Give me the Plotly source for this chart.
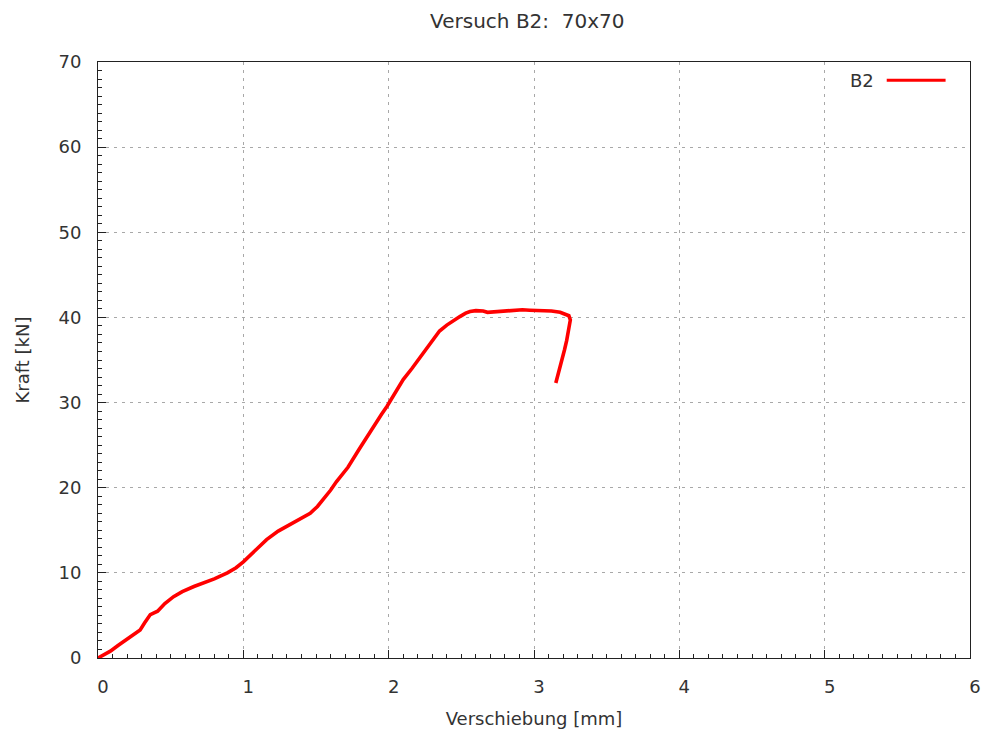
import plotly.graph_objects as go

# Load-displacement curve of specimen B2 (70x70)
displacement_mm = [
    0, 0.04, 0.085, 0.14, 0.2, 0.25, 0.29, 0.32, 0.34, 0.36,
    0.41, 0.46, 0.52, 0.58, 0.66, 0.73, 0.80, 0.89, 0.95, 1.0,
    1.08, 1.16, 1.24, 1.32, 1.40, 1.46, 1.51, 1.55, 1.60, 1.64,
    1.72, 1.80, 1.88, 1.95, 1.99, 2.05, 2.10, 2.16, 2.22, 2.28,
    2.35, 2.40, 2.45, 2.49, 2.53, 2.56, 2.60, 2.65, 2.68, 2.72,
    2.745, 2.80, 2.86, 2.92, 2.97, 3.05, 3.12, 3.18, 3.22, 3.24,
    3.25, 3.24, 3.225, 3.21, 3.19, 3.17, 3.15,
]
force_kN = [
    0, 0.4, 0.8, 1.5, 2.2, 2.8, 3.3, 4.1, 4.7, 5.1,
    5.5, 6.4, 7.2, 7.8, 8.4, 8.8, 9.3, 10.0, 10.6, 11.3,
    12.6, 13.9, 14.9, 15.7, 16.4, 17.0, 17.8, 18.6, 19.7, 20.7,
    22.4, 24.6, 26.8, 28.6, 29.6, 31.4, 32.7, 34.0, 35.4, 36.8,
    38.4, 39.1, 39.7, 40.1, 40.5, 40.7, 40.8, 40.75, 40.6, 40.65,
    40.7, 40.8, 40.9, 40.9, 40.85, 40.8, 40.75, 40.6, 40.4, 40.2,
    39.7, 38.5, 37.3, 36.2, 35.0, 33.7, 32.3,
]
series_name = "B2"

x_ticks = [0, 1, 2, 3, 4, 5, 6]
y_ticks = [0, 10, 20, 30, 40, 50, 60, 70]

FONT = "DejaVu Sans"
SIZE = 18
TEXT = "#333333"
RED = "#ff0000"

fig = go.Figure()
fig.add_trace(go.Scatter(
    x=displacement_mm, y=force_kN, mode="lines", name=series_name,
    line=dict(color=RED, width=3.6), showlegend=False,
))

axis_common = dict(
    showline=True, linecolor="#222222", linewidth=1, mirror=True,
    showgrid=True, gridcolor="#a8a8a8", gridwidth=1, griddash="3px,5px",
    zeroline=False, ticks="inside", ticklen=8, tickwidth=1, tickcolor="#222222",
    tickfont=dict(family=FONT, size=SIZE, color=TEXT),
)

fig.update_xaxes(
    range=[0, 6], tickvals=x_ticks, ticktext=[str(v) for v in x_ticks],
    ticklabelstandoff=12, ticklabelshift=5,
    minor=dict(dtick=0.1, ticks="inside", ticklen=4, tickcolor="#222222", showgrid=False),
    title=dict(text="Verschiebung [mm]", font=dict(family=FONT, size=SIZE, color=TEXT), standoff=16),
    **axis_common,
)
fig.update_yaxes(
    range=[0, 70], tickvals=y_ticks, ticktext=[str(v) for v in y_ticks],
    ticklabelstandoff=12,
    minor=dict(dtick=1, ticks="inside", ticklen=4, tickcolor="#222222", showgrid=False),
    title=dict(text="Kraft [kN]", font=dict(family=FONT, size=SIZE, color=TEXT), standoff=24),
    **axis_common,
)

# Legend entry drawn gnuplot style: label text followed by the line sample
fig.add_annotation(
    xref="paper", yref="paper", x=0.8925, y=0.9693, xanchor="right", yanchor="middle",
    text=series_name, showarrow=False, font=dict(family=FONT, size=SIZE, color=TEXT),
)
fig.add_shape(
    type="line", xref="paper", yref="paper", x0=0.9045, x1=0.972, y0=0.9693, y1=0.9693,
    line=dict(color=RED, width=3),
)

fig.update_layout(
    width=982, height=733,
    margin=dict(l=98, r=12, t=62, b=74.5, autoexpand=False),
    paper_bgcolor="white", plot_bgcolor="white",
    title=dict(text="Versuch B2:\u00a0 70x70", x=0.537, xanchor="center", y=0.972, yanchor="middle",
               font=dict(family=FONT, size=20, color=TEXT)),
)

fig.write_html("out.html")
